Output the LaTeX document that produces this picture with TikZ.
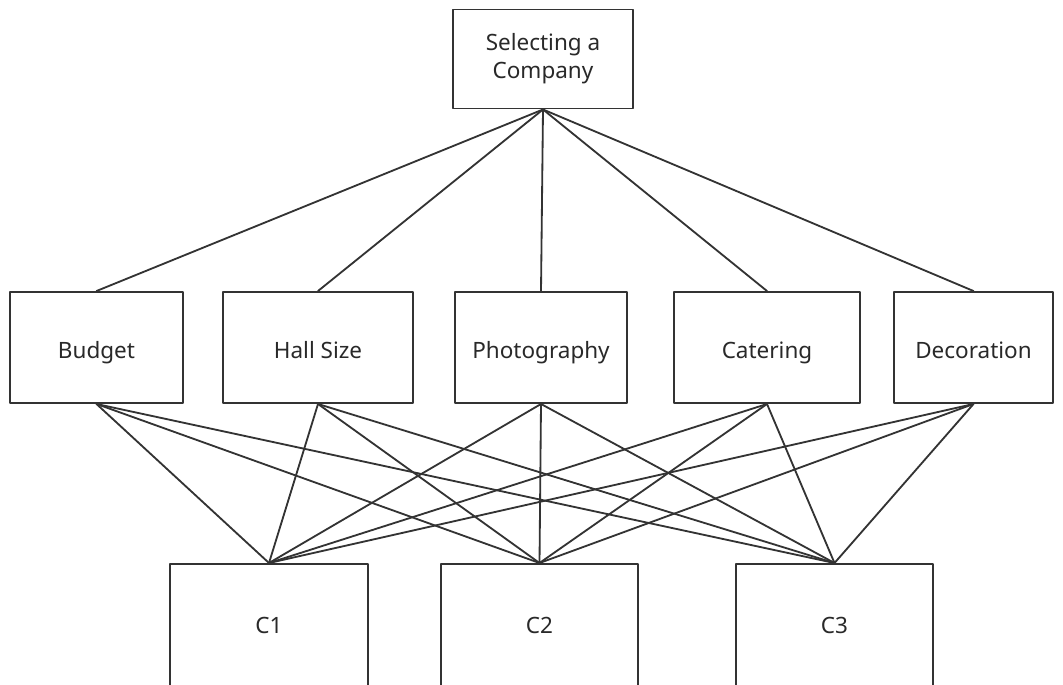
\documentclass[tikz,border=0pt]{standalone}
\usepackage{fontspec}
\setmainfont{Noto Sans}
\definecolor{edgegray}{HTML}{333333}
\begin{document}
\begin{tikzpicture}[x=0.025cm, y=-0.025cm, line join=round, line cap=round,
	font=\fontsize{16}{20}\selectfont, text=edgegray!80!black,
	box/.style 2 args={draw=edgegray, line width=1.4pt, fill=white, inner sep=0pt,
		minimum width=#1*0.025cm, minimum height=#2*0.025cm, align=center},
	crit/.style={text height=17pt, text depth=2pt},
	link/.style={draw=edgegray, line width=1.3pt}]
	\clip (0,0) rectangle (1063,684); % page frame, bottom boxes run off
	% goal
	\node[box={180}{99}] (goal) at (543,59) {Selecting a\\Company};
	% criteria
	\def\ymid{347.5}
	\node[box={173}{111}, crit] (budget) at (96.5,\ymid) {Budget};
	\node[box={190}{111}, crit] (hall) at (318,\ymid) {Hall Size};
	\node[box={172}{111}, crit] (photo) at (541,\ymid) {Photography};
	\node[box={186}{111}, crit] (cater) at (767,\ymid) {Catering};
	\node[box={159}{111}, crit] (decor) at (973.5,\ymid) {Decoration};
	% alternatives
	\node[box={198}{180}, anchor=north] (c1) at (269,563) {};
	\node[box={197}{180}, anchor=north] (c2) at (539.5,563) {};
	\node[box={197}{180}, anchor=north] (c3) at (834.5,563) {};
	\node[anchor=base] at (269,633) {C1};
	\node[anchor=base] at (539.5,633) {C2};
	\node[anchor=base] at (834.5,633) {C3};
	% links
	\foreach \k in {budget,hall,photo,cater,decor}{
		\draw[link] (goal.south) -- (\k.north);
		\foreach \c in {c1,c2,c3}
			\draw[link] (\k.south) -- (\c.north);
	}
\end{tikzpicture}
\end{document}
